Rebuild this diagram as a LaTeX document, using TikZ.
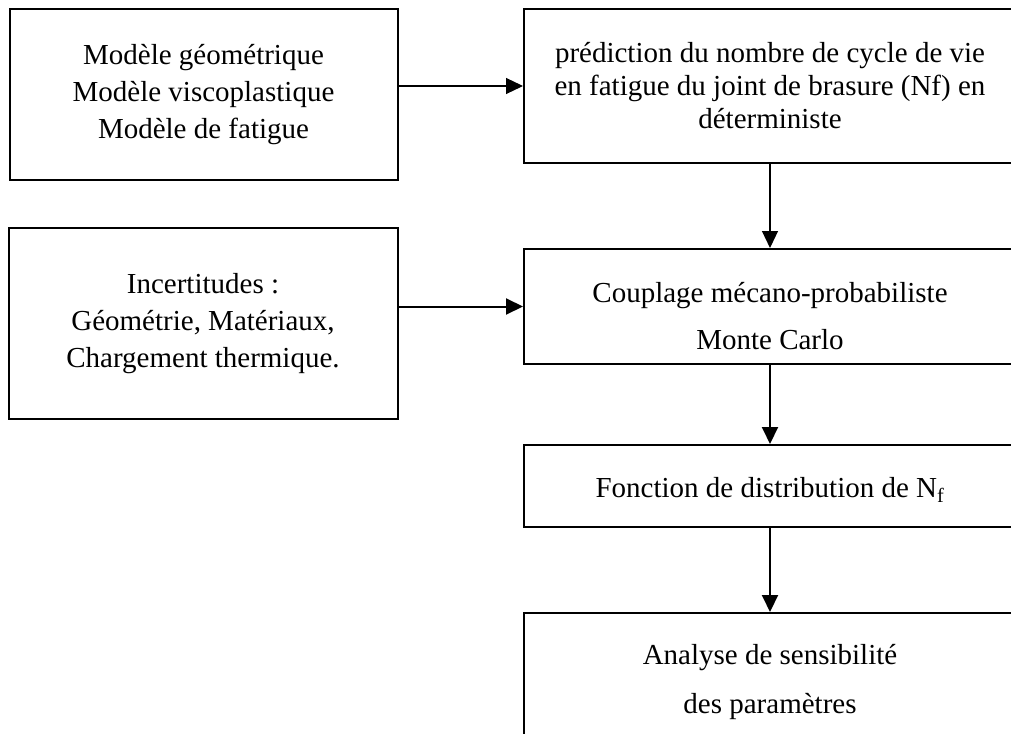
\documentclass[tikz,border=0pt]{standalone}
\usepackage{fontspec}
\setmainfont{Liberation Serif}
\usetikzlibrary{arrows.meta}

\begin{document}
\begin{tikzpicture}[
  x=1pt, y=-1pt,
  bloc/.style={draw, line width=2pt, align=center, inner sep=0pt, font=\fontsize{29}{37}\selectfont},
  fleche/.style={-{Triangle[length=17pt, width=16pt]}, line width=1.2pt},
  fleche epaisse/.style={fleche, line width=2pt}
]
  \clip (0,0) rectangle (1011,733);
  % colonne de gauche
  \node[bloc, minimum width=388pt, minimum height=170pt] (modeles) at (203.5,94.5) {Modèle géométrique\\Modèle viscoplastique\\Modèle de fatigue};
  \node[bloc, minimum width=389pt, minimum height=191pt] (incert) at (203,323.5) {Incertitudes :\\Géométrie, Matériaux,\\Chargement thermique.};
  % colonne de droite (coupée au bord)
  \node[bloc, minimum width=492pt, minimum height=153pt, font=\fontsize{29}{33}\selectfont] (prediction) at (770,86) {prédiction du nombre de cycle de vie\\en fatigue du joint de brasure (Nf) en\\déterministe};
  \node[bloc, minimum width=492pt, minimum height=115pt, font=\fontsize{29}{47}\selectfont] (couplage) at (770,306.5) {\rule{0pt}{40pt}Couplage mécano-probabiliste\\Monte Carlo};
  \node[bloc, minimum width=492pt, minimum height=82pt] (fonction) at (770,486) {\rule{0pt}{28pt}Fonction de distribution de N\textsubscript{f}};
  \node[bloc, minimum width=492pt, minimum height=138pt, font=\fontsize{29}{49}\selectfont] (analyse) at (770,682) {Analyse de sensibilité\\des paramètres};

  \draw[fleche] (modeles.east |- prediction.west) -- (prediction.west);
  \draw[fleche epaisse] (incert.east |- couplage.west) -- (couplage.west);
  \draw[fleche] (prediction) -- (couplage);
  \draw[fleche epaisse] (couplage) -- (fonction);
  \draw[fleche epaisse] (fonction) -- (analyse);
\end{tikzpicture}
\end{document}
